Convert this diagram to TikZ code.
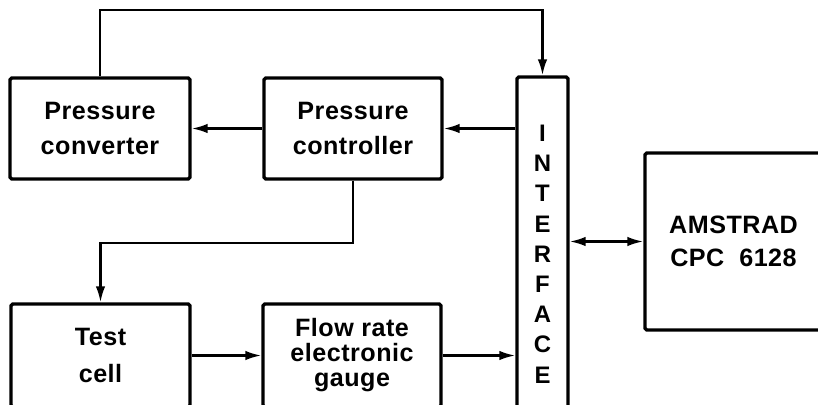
\documentclass[tikz,border=0pt]{standalone}
\usepackage{fontspec}
\setmainfont{Liberation Sans}[LetterSpace=2]
\usepackage{tikz}
\usetikzlibrary{arrows.meta}
\tikzset{
  ar/.style={-{Latex[length=0.32cm,width=0.19cm]},line width=1.3pt},
  arr/.style={{Latex[length=0.32cm,width=0.19cm]}-{Latex[length=0.32cm,width=0.19cm]},line width=1.3pt},
  box/.style={draw,line width=1.9pt,rounded corners=1pt,align=center,inner sep=0pt,
    font=\bfseries\fontsize{14.3}{19.9}\selectfont}
}

\begin{document}
\begin{tikzpicture}[x=0.02cm,y=-0.02cm]
\useasboundingbox (0,0) rectangle (818,405);
\clip (0,0) rectangle (818,405);
\node[box,minimum width=3.6cm,minimum height=2.02cm] (conv) at (100,128.5) {Pressure\\converter};
\node[box,minimum width=3.56cm,minimum height=2.02cm] (ctrl) at (353,128.5) {Pressure\\controller};
\node[box,minimum width=3.58cm,minimum height=2.06cm,font=\bfseries\fontsize{14.3}{21}\selectfont] (cell) at (100.5,355.5) {Test\\cell};
\node[box,minimum width=3.56cm,minimum height=2.06cm,font=\bfseries\fontsize{14.3}{14.2}\selectfont] (flow) at (352,355.5) {Flow rate\\electronic\\gauge};
\node[box,minimum width=1.02cm,minimum height=7.08cm,font=\bfseries\fontsize{13.6}{17.2}\selectfont] (iface) at (542.5,254) {I\\N\\T\\E\\R\\F\\A\\C\\E};
\node[box,minimum width=3.54cm,minimum height=3.54cm,font=\bfseries\fontsize{14.3}{18.8}\selectfont] (pc) at (733.5,241.5) {AMSTRAD\\CPC~~6128};
\draw[ar] (conv.north) -- ++(0,-66) -| (iface.north);
\draw[ar] (iface.west |- ctrl.east) -- (ctrl.east);
\draw[ar] (ctrl.west) -- (conv.east);
\draw[ar] (ctrl.south) -- ++(0,62) -| (cell.north);
\draw[ar] (cell.east) -- (flow.west);
\draw[ar] (flow.east) -- (flow.east -| iface.west);
\draw[arr] (iface.east |- pc.west) -- (pc.west);
\end{tikzpicture}
\end{document}
